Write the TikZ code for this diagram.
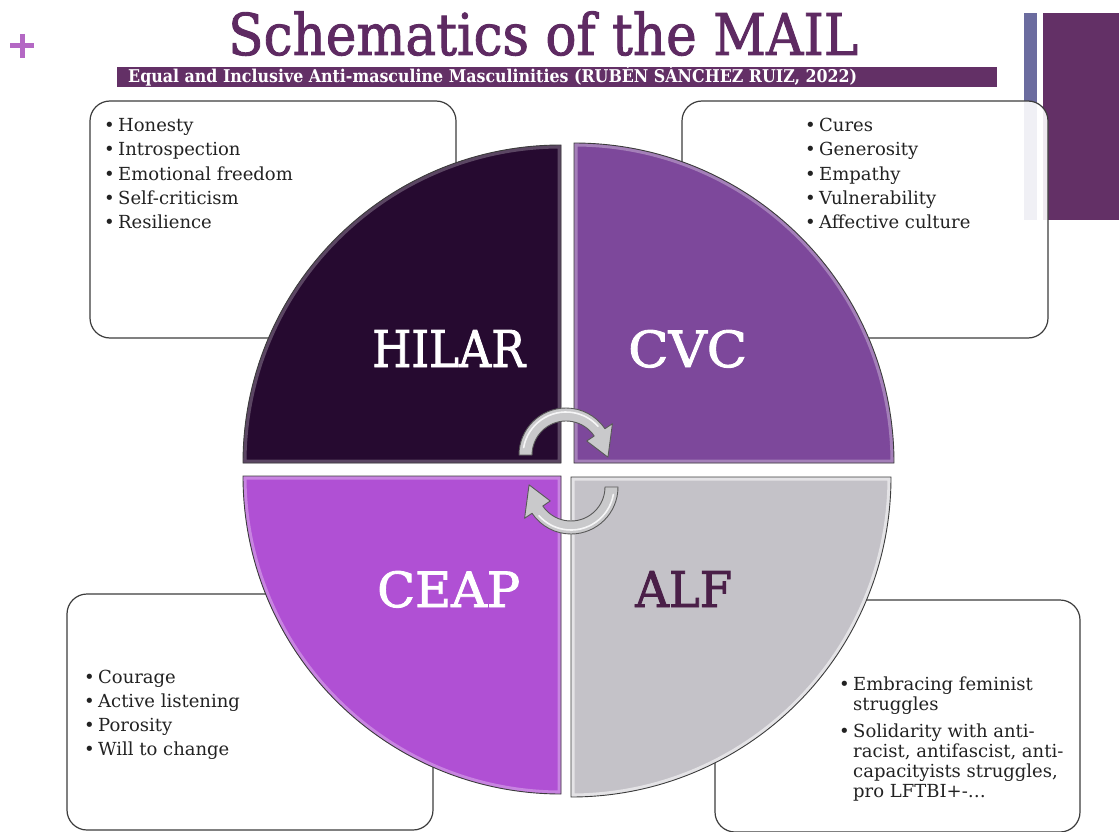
\documentclass[tikz,border=0pt]{standalone}
\usepackage{fontspec}
\usepackage{graphicx}
\setmainfont{DejaVu Serif}
\newfontfamily\listfont{DejaVu Serif}
\newfontfamily\headfont[FakeBold=1.6]{DejaVu Serif}
\newfontfamily\labelfont[FakeBold=1.8]{DejaVu Serif}
\usetikzlibrary{calc}

\definecolor{titlepurple}{HTML}{5E2A62}
\definecolor{barpurple}{HTML}{633066}
\definecolor{barblue}{HTML}{6B6C9F}
\definecolor{plusviolet}{HTML}{B468C4}
\definecolor{hilarfill}{HTML}{260A30}
\definecolor{cvcfill}{HTML}{7D489B}
\definecolor{ceapfill}{HTML}{B050D4}
\definecolor{alffill}{HTML}{C4C2C8}
\definecolor{alftext}{HTML}{4A1F48}
\definecolor{edgegray}{HTML}{3C3C3C}
\definecolor{arrowgray}{HTML}{C9C9CB}
\definecolor{listink}{HTML}{222222}

% one bullet line and one continuation line of a list
\newcommand{\bul}[1]{\makebox[14pt][l]{\textbullet}#1}
\newcommand{\cont}[1]{\hspace*{14pt}#1}

% a quarter disc with a light inner bevel and a thin dark rim
\newcommand{\quarterdisc}[3]{% colour, bevel colour, path
  \begin{scope}
    \clip #3;
    \fill[#1] #3;
    \draw[line width=7pt, #2, opacity=0.55] #3;
  \end{scope}
  \draw[quarter] #3;
}

% curved cycle arrow: centre, tail angle, head base angle, tip angle
\newcommand{\turnarrow}[4]{%
  \draw[cyclearrow] ($(#1)+(#2:47)$) arc[start angle=#2, end angle=#3, radius=47]
    -- ($(#1)+(#3:56)$) -- ($(#1)+(#4:42)$) -- ($(#1)+(#3:25)$) -- ($(#1)+(#3:34)$)
    arc[start angle=#3, end angle=#2, radius=34] -- cycle;
  \draw[white, line width=1.6pt, opacity=0.85, line cap=round]
    ($(#1)+(#2+10:43)$) arc[start angle=#2+10, end angle=#3-8, radius=43];
}

\tikzset{
  infobox/.style={draw=edgegray, line width=1.2pt, fill=white, fill opacity=0.9,
    rounded corners=20pt, inner sep=0pt},
  quarter/.style={draw=edgegray, line width=0.9pt},
  biglabel/.style={inner sep=0pt, anchor=base west},
  listtext/.style={inner sep=0pt, anchor=base west, text=listink,
    font=\listfont\fontsize{18}{24.3}\selectfont},
  cyclearrow/.style={fill=arrowgray, draw=edgegray!85, line width=0.9pt, line join=round},
}

\begin{document}
\begin{tikzpicture}[x=1pt, y=-1pt]
  % page
  \fill[white] (0,0) rectangle (1119,832);
  \useasboundingbox (0,0) rectangle (1119,832);

  % corner ornaments
  \draw[plusviolet, line width=5pt] (10,46) -- (34,46) (22,34) -- (22,58);
  \fill[barblue] (1024,13) rectangle (1037,220);
  \fill[barpurple] (1043,13) rectangle (1119,220);

  % heading
  \node[inner sep=0pt, anchor=base west, text=titlepurple] (title) at (228,55)
    {\resizebox{630pt}{\height}{\headfont\fontsize{57.6}{60}\selectfont Schematics of the MAIL}};
  \fill[barpurple] (117,67) rectangle (997,87);
  \node[inner sep=0pt, anchor=base west, text=white] (subtitle) at (128,83)
    {\resizebox{729pt}{\height}{\fontsize{17.6}{18}\selectfont\bfseries Equal and Inclusive Anti-masculine Masculinities (RUBÉN SÁNCHEZ RUIZ, 2022)}};

  % text boxes
  \node[infobox, minimum width=366pt, minimum height=237pt] (boxTL) at (273,219.5) {};
  \node[infobox, minimum width=366pt, minimum height=237pt] (boxTR) at (865,219.5) {};
  \node[infobox, minimum width=366pt, minimum height=236pt] (boxBL) at (250,712) {};
  \node[infobox, minimum width=365pt, minimum height=232pt] (boxBR) at (897.5,716) {};

  \node[listtext] (listTL) at (104,131.7) {\begin{tabular}[t]{@{}l@{}}
    \bul{Honesty}\\ \bul{Introspection}\\ \bul{Emotional freedom}\\
    \bul{Self-criticism}\\ \bul{Resilience}\end{tabular}};
  \node[listtext] (listTR) at (805,131.7) {\begin{tabular}[t]{@{}l@{}}
    \bul{Cures}\\ \bul{Generosity}\\ \bul{Empathy}\\
    \bul{Vulnerability}\\ \bul{Affective culture}\end{tabular}};
  \node[listtext] (listBL) at (84,683) {\begin{tabular}[t]{@{}l@{}}
    \bul{Courage}\\ \bul{Active listening}\\ \bul{Porosity}\\
    \bul{Will to change}\end{tabular}};
  \node[listtext, font=\listfont\fontsize{18}{20}\selectfont] (listBR) at (839,690)
    {\begin{tabular}[t]{@{}l@{}}
    \bul{Embracing feminist}\\ \cont{struggles}\\[7pt]
    \bul{Solidarity with anti-}\\ \cont{racist, antifascist, anti-}\\
    \cont{capacityists struggles,}\\ \cont{pro LFTBI+-\dots}\end{tabular}};

  % the four quarters of the disc
  \quarterdisc{hilarfill}{hilarfill!55!white}
    {(561,463) -- (243,463) arc[start angle=180, end angle=270, radius=318] -- cycle}
  \quarterdisc{cvcfill}{cvcfill!45!white}
    {(574,463) -- (574,143) arc[start angle=270, end angle=360, radius=320] -- cycle}
  \quarterdisc{alffill}{white}
    {(571,477) -- (891,477) arc[start angle=0, end angle=90, radius=320] -- cycle}
  \quarterdisc{ceapfill}{ceapfill!45!white}
    {(561,476) -- (561,794) arc[start angle=90, end angle=180, radius=318] -- cycle}

  \node[biglabel, text=white] (hilar) at (372,367)
    {\resizebox{153pt}{37pt}{\labelfont\fontsize{51}{51}\selectfont HILAR}};
  \node[biglabel, text=white] (cvc) at (628,367)
    {\resizebox{119pt}{37pt}{\labelfont\fontsize{51}{51}\selectfont CVC}};
  \node[biglabel, text=white] (ceap) at (377,607)
    {\resizebox{143pt}{36pt}{\labelfont\fontsize{51}{51}\selectfont CEAP}};
  \node[biglabel, text=alftext] (alf) at (635,607)
    {\resizebox{97pt}{36pt}{\labelfont\fontsize{51}{51}\selectfont ALF}};

  % cycle arrows in the centre
  \coordinate (turnTop) at (566,455);
  \coordinate (turnBottom) at (571,487);
  \turnarrow{turnTop}{180}{326}{3}
  \turnarrow{turnBottom}{0}{146}{183}
\end{tikzpicture}
\end{document}
